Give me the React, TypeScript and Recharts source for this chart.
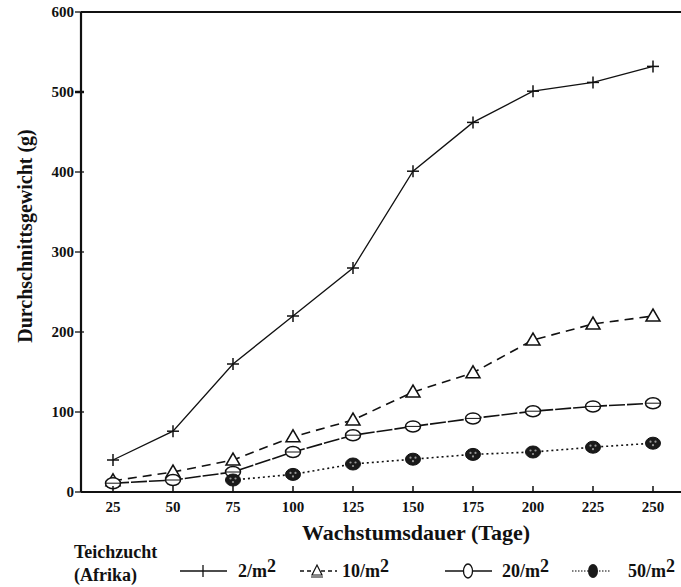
import React from 'react';
import { LineChart, Line, XAxis, YAxis, ReferenceLine, Legend } from 'recharts';

const days = [25, 50, 75, 100, 125, 150, 175, 200, 225, 250];
const w2 = [40, 76, 160, 220, 280, 401, 462, 501, 512, 532];
const w10 = [14, 25, 40, 69, 90, 125, 149, 190, 210, 220];
const w20 = [11, 15, 25, 50, 71, 82, 92, 101, 107, 111];
const w50: (number | null)[] = [null, null, 15, 22, 35, 41, 47, 50, 56, 61];
const yTicks = [0, 100, 200, 300, 400, 500, 600];
const xTicks = [25, 50, 75, 100, 125, 150, 175, 200, 225, 250];
const seriesKeys = ['d2', 'd10', 'd20', 'd50'];
const seriesLabels = ['2', '10', '20', '50'];

const data = days.map((d, i) => ({ day: d, d2: w2[i], d10: w10[i], d20: w20[i], d50: w50[i] }));

const FONT = "'Liberation Serif', 'DejaVu Serif', 'Times New Roman', serif";
const INK = '#111';
const txt = (size: number): React.CSSProperties => ({ fontFamily: FONT, fontWeight: 700, fontSize: size, fill: INK });

const PlusDot = (p: any) => {
  const { cx, cy, index } = p;
  if (cx == null || cy == null) return <g key={`p${index}`} />;
  return (
    <g key={`p${index}`}>
      <line x1={cx - 6} x2={cx + 6} y1={cy} y2={cy} stroke={INK} strokeWidth={1.5} />
      <line x1={cx} x2={cx} y1={cy - 6} y2={cy + 6} stroke={INK} strokeWidth={1.5} />
    </g>
  );
};

const TriDot = (p: any) => {
  const { cx, cy, index } = p;
  if (cx == null || cy == null) return <g key={`t${index}`} />;
  return (
    <polygon
      key={`t${index}`}
      points={`${cx - 7},${cy + 5} ${cx + 7},${cy + 5} ${cx},${cy - 7}`}
      fill="#fff"
      stroke={INK}
      strokeWidth={1.5}
    />
  );
};

const CircDot = (p: any) => {
  const { cx, cy, index } = p;
  if (cx == null || cy == null) return <g key={`c${index}`} />;
  return (
    <g key={`c${index}`}>
      <ellipse cx={cx} cy={cy} rx={7.5} ry={5.5} fill="#fff" stroke={INK} strokeWidth={1.5} />
      <line x1={cx - 7} x2={cx + 7} y1={cy} y2={cy} stroke={INK} strokeWidth={1} />
    </g>
  );
};

const FillDot = (p: any) => {
  const { cx, cy, index } = p;
  if (cx == null || cy == null) return <g key={`f${index}`} />;
  return (
    <g key={`f${index}`}>
      <ellipse cx={cx} cy={cy} rx={7.5} ry={6} fill="#1a1a1a" stroke={INK} strokeWidth={1} />
      <circle cx={cx - 2.5} cy={cy - 1.5} r={1.1} fill="#999" />
      <circle cx={cx + 2.5} cy={cy - 1.5} r={1.1} fill="#999" />
      <circle cx={cx} cy={cy + 2} r={1.1} fill="#999" />
    </g>
  );
};

const YTick = (p: any) => {
  const { x, y, payload } = p;
  const big = payload.value === 500;
  return (
    <g>
      <line x1={x - 6} x2={x + 3} y1={y} y2={y} stroke={INK} strokeWidth={big ? 2.5 : 1.3} />
      <text x={x - 7} y={y} dy={5} textAnchor="end" style={txt(15)}>
        {payload.value}
      </text>
    </g>
  );
};

const XTick = (p: any) => {
  const { x, y, payload } = p;
  return (
    <g>
      <line x1={x} x2={x} y1={y - 6} y2={y} stroke={INK} strokeWidth={1.5} />
      <text x={x} y={y + 20} textAnchor="middle" style={txt(15)}>
        {payload.value}
      </text>
    </g>
  );
};

const legendX = [
  { x1: 180, x2: 227, m: 203, t: 238 },
  { x1: 300, x2: 337, m: 317, t: 342 },
  { x1: 445, x2: 492, m: 468, t: 502 },
  { x1: 572, x2: 610, m: 593, t: 628 },
];

const LegendSymbol = ({ k, x1, x2, m, y }: any) => {
  if (k === 'd2')
    return (
      <g>
        <line x1={x1} x2={x2} y1={y} y2={y} stroke={INK} strokeWidth={1.5} />
        <line x1={m} x2={m} y1={y - 6} y2={y + 6} stroke={INK} strokeWidth={1.3} />
      </g>
    );
  if (k === 'd10')
    return (
      <g>
        <line x1={x1} x2={x2} y1={y} y2={y} stroke={INK} strokeWidth={1.3} strokeDasharray="4 3" />
        <polygon points={`${m - 5},${y + 4} ${m + 5},${y + 4} ${m},${y - 6}`} fill="#fff" stroke={INK} strokeWidth={1.2} />
        <line x1={m - 6} x2={m + 6} y1={y + 6} y2={y + 6} stroke={INK} strokeWidth={1} />
      </g>
    );
  if (k === 'd20')
    return (
      <g>
        <line x1={x1} x2={x2} y1={y} y2={y} stroke={INK} strokeWidth={1.5} />
        <ellipse cx={m} cy={y} rx={4.5} ry={7} fill="#fff" stroke={INK} strokeWidth={1.3} />
      </g>
    );
  return (
    <g>
      <line x1={x1} x2={x2} y1={y} y2={y} stroke="#555" strokeWidth={1.3} strokeDasharray="1.5 1.5" />
      <ellipse cx={m} cy={y} rx={5} ry={7} fill="#1a1a1a" />
    </g>
  );
};

const LegendContent = (props: any) => {
  const payload = props.payload || [];
  const y = 34;
  return (
    <div style={{ width: 681, height: 50 }}>
      <svg width={681} height={50} style={{ display: 'block' }}>
        <text x={74} y={21} style={txt(18)}>Teichzucht</text>
        <text x={74} y={44} style={txt(18)}>(Afrika)</text>
        {payload.map((entry: any) => {
          const k = entry.dataKey;
          const idx = seriesKeys.indexOf(k);
          const pos = legendX[idx];
          return (
            <g key={k}>
              <LegendSymbol k={k} x1={pos.x1} x2={pos.x2} m={pos.m} y={y} />
              <text x={pos.t} y={y + 6} style={txt(18)}>
                {seriesLabels[idx]}/m<tspan dy={-5}>2</tspan>
              </text>
            </g>
          );
        })}
      </svg>
    </div>
  );
};

const YLabel = (p: any) => {
  const vb = p.viewBox || { x: 0, y: 12, width: 81, height: 480 };
  const cx = vb.x + 32;
  const cy = vb.y + vb.height / 2 - 16;
  return (
    <text x={cx} y={cy} transform={`rotate(-90, ${cx}, ${cy})`} textAnchor="middle" style={txt(20)}>
      Durchschnittsgewicht (g)
    </text>
  );
};

const XLabel = (p: any) => {
  const vb = p.viewBox || { x: 81, y: 492, width: 600, height: 45 };
  return (
    <text x={vb.x + vb.width / 2 + 35} y={vb.y + 48} textAnchor="middle" style={txt(22)}>
      Wachstumsdauer (Tage)
    </text>
  );
};

export default function App() {
  return (
    <div style={{ position: 'absolute', left: 0, top: 0, width: 681, height: 587, background: '#fff' }}>
      <LineChart width={681} height={587} data={data} margin={{ top: 12, right: 0, left: 0, bottom: 0 }}>
        <XAxis
          dataKey="day"
          type="number"
          domain={[11.6667, 261.6667]}
          ticks={xTicks}
          allowDataOverflow
          height={45}
          axisLine={{ stroke: INK, strokeWidth: 2.2 }}
          tickLine={false}
          tickSize={0}
          tickMargin={0}
          tick={<XTick />}
          label={<XLabel />}
        />
        <YAxis
          type="number"
          domain={[0, 600]}
          ticks={yTicks}
          width={81}
          axisLine={{ stroke: INK, strokeWidth: 2.2 }}
          tickLine={false}
          tickSize={0}
          tickMargin={0}
          tick={<YTick />}
          label={<YLabel />}
        />
        <ReferenceLine y={600} stroke={INK} strokeWidth={2.2} />
        <Legend verticalAlign="bottom" align="left" content={<LegendContent />} wrapperStyle={{ left: 0, width: 681 }} />
        <Line dataKey="d2" type="linear" stroke={INK} strokeWidth={1.3} dot={PlusDot} activeDot={false} isAnimationActive={false} />
        <Line dataKey="d10" type="linear" stroke={INK} strokeWidth={1.6} strokeDasharray="9 6" dot={TriDot} activeDot={false} isAnimationActive={false} />
        <Line dataKey="d20" type="linear" stroke={INK} strokeWidth={1.6} strokeDasharray="16 2" dot={CircDot} activeDot={false} isAnimationActive={false} />
        <Line dataKey="d50" type="linear" stroke={INK} strokeWidth={1.6} strokeDasharray="2 3" dot={FillDot} activeDot={false} isAnimationActive={false} connectNulls={false} />
      </LineChart>
    </div>
  );
}
